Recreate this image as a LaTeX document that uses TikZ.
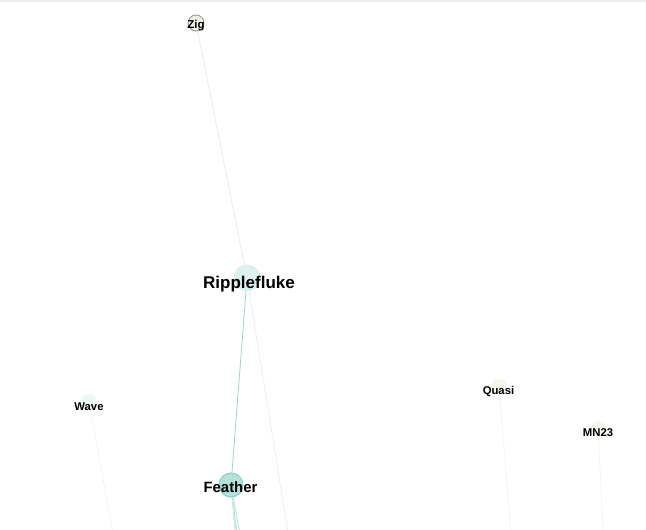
\documentclass[tikz,border=0pt]{standalone}
\usepackage{fontspec}
\setmainfont{Liberation Sans}
\definecolor{zigfill}{HTML}{F0F5E6}
\definecolor{ripfill}{HTML}{DDF2EE}
\definecolor{ripdraw}{HTML}{D0ECE8}
\definecolor{feafill}{HTML}{B4E2DB}
\definecolor{feadraw}{HTML}{8DCFC6}
\definecolor{wavfill}{HTML}{ECF6F2}
\definecolor{quafill}{HTML}{F4F8EE}
\definecolor{mnfill}{HTML}{F2F8EC}
\definecolor{ezr}{HTML}{DDE9E4}
\definecolor{erf}{HTML}{9AD6CE}
\definecolor{erb}{HTML}{E0F0EE}
\definecolor{ef1}{HTML}{B3E2DB}
\definecolor{ef2}{HTML}{C2E7E1}
\definecolor{ef3}{HTML}{CCEAE5}
\definecolor{ew}{HTML}{EAF3EF}
\definecolor{eq}{HTML}{F0F3EC}
\definecolor{em}{HTML}{EEF3EA}
\begin{document}
\begin{tikzpicture}[x=1pt,y=-1pt,
  vtx/.style={circle,inner sep=0pt,minimum size=#1},
  lbl/.style={font=\bfseries\fontsize{#1}{#1}\selectfont,inner sep=0pt,text=black},
  faint/.style={draw=#1,line width=0.6pt},
]
\useasboundingbox (0,0) rectangle (646,530);
\clip (0,0) rectangle (646,530);
\fill[black!7] (0,0) rectangle (646,2);
% off-canvas ends
\coordinate (rb) at (290,545);
\coordinate (fb1) at (238,545);
\coordinate (fb2) at (242,545);
\coordinate (fb3) at (236,545);
\coordinate (wb) at (115,545);
\coordinate (qb) at (512,545);
\coordinate (mb) at (604,545);
% node circles
\node[vtx=16pt,draw=black!40,line width=0.9pt,fill=zigfill] (zig) at (196,23) {};
\node[vtx=26pt,fill=ripfill,draw=ripdraw,line width=0.6pt] (rip) at (247,278) {};
\node[vtx=24pt,fill=feafill,draw=feadraw,line width=1pt] (fea) at (231,485) {};
\node[vtx=16pt,fill=wavfill] (wav) at (89,402) {};
\node[vtx=16pt,fill=quafill] (qua) at (499,387) {};
\node[vtx=16pt,fill=mnfill] (mn) at (598,429) {};
% edges
\draw[faint=ezr] (zig) -- (rip);
\draw[faint=erf,line width=0.8pt] (rip) -- (fea);
\draw[faint=erb] (rip) -- (rb);
\draw[faint=ef1,line width=1.2pt] (fea) -- (fb1);
\draw[faint=ef2,line width=1pt] (fea) -- (fb2);
\draw[faint=ef3,line width=0.8pt] (fea) -- (fb3);
\draw[faint=ew] (wav) -- (wb);
\draw[faint=eq] (qua) -- (qb);
\draw[faint=em] (mn) -- (mb);
% labels
\node[lbl=11.5] (zigl) at (196,26) {Zig};
\node[lbl=17] (ripl) at (249,284) {Ripplefluke};
\node[lbl=14.9] (feal) at (230.5,487) {Feather};
\node[lbl=11.3] (wavl) at (89,407) {Wave};
\node[lbl=11.3] (qual) at (498.5,392) {Quasi};
\node[lbl=11.3] (mnl) at (598,433) {MN23};
\end{tikzpicture}
\end{document}
